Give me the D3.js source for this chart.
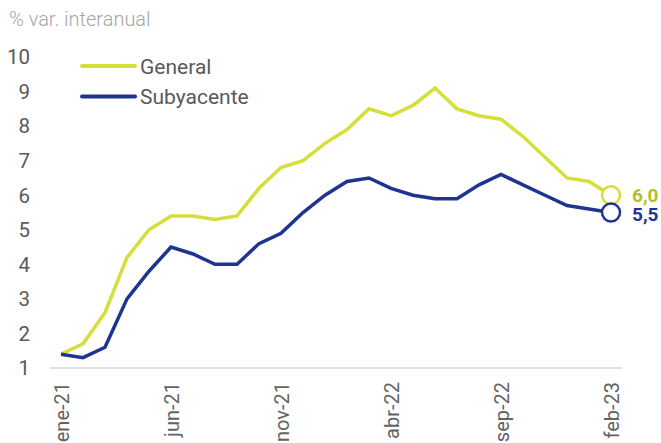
<!DOCTYPE html>
<html>
<head>
<meta charset="utf-8">
<script src="https://cdn.jsdelivr.net/npm/d3@7"></script>
<style>
  body { margin: 0; background: #fff; }
  svg { display: block; font-family: Roboto, "Noto Sans", sans-serif; }
</style>
</head>
<body>
<div id="chart"></div>
<script>
const months = ["ene-21","feb-21","mar-21","abr-21","may-21","jun-21","jul-21","ago-21","sep-21","oct-21","nov-21","dic-21",
  "ene-22","feb-22","mar-22","abr-22","may-22","jun-22","jul-22","ago-22","sep-22","oct-22","nov-22","dic-22",
  "ene-23","feb-23"];
const general = [1.4,1.7,2.6,4.2,5.0,5.4,5.4,5.3,5.4,6.2,6.8,7.0,7.5,7.9,8.5,8.3,8.6,9.1,8.5,8.3,8.2,7.7,7.1,6.5,6.4,6.0];
const subyacente = [1.4,1.3,1.6,3.0,3.8,4.5,4.3,4.0,4.0,4.6,4.9,5.5,6.0,6.4,6.5,6.2,6.0,5.9,5.9,6.3,6.6,6.3,6.0,5.7,5.6,5.5];
const shownTicks = ["ene-21","jun-21","nov-21","abr-22","sep-22","feb-23"];
const yTicks = [1,2,3,4,5,6,7,8,9,10];

const width = 661, height = 443;
const colGeneral = "#d5df38", colSub = "#1f3491";

const svg = d3.select("#chart").append("svg")
  .attr("width", width)
  .attr("height", height);

const x = d3.scalePoint().domain(months).range([61, 611]);
const y = d3.scaleLinear().domain([1, 10]).range([368, 57]);

// title
svg.append("text")
  .attr("x", 9).attr("y", 26)
  .attr("fill", "#a6a6a6")
  .attr("font-size", 20)
  .attr("font-weight", 300)
  .text("% var. interanual");

// y axis labels
svg.append("g")
  .selectAll("text")
  .data(yTicks)
  .join("text")
  .attr("x", 30)
  .attr("y", d => y(d))
  .attr("dy", "0.36em")
  .attr("text-anchor", "end")
  .attr("fill", "#595959")
  .attr("font-size", 20.5)
  .text(d => d);

// x axis
const xAxis = svg.append("g")
  .attr("transform", `translate(0,${y(1)})`)
  .call(d3.axisBottom(x).tickValues(shownTicks).tickSize(0));
xAxis.select(".domain").remove();
xAxis.append("line")
  .attr("x1", 50).attr("x2", 622)
  .attr("stroke", "#d9d9d9")
  .attr("stroke-width", 1.5);
xAxis.selectAll(".tick text")
  .attr("transform", "rotate(-90)")
  .attr("text-anchor", "end")
  .attr("x", -14).attr("y", 0)
  .attr("dy", "0.36em")
  .attr("fill", "#636363")
  .attr("font-size", 20)
  .attr("font-family", "Roboto, 'Noto Sans', sans-serif");

// lines
const line = d3.line().x((d, i) => x(months[i])).y(d => y(d));
const series = [
  { name: "General", values: general, color: colGeneral, labelColor: "#b5bd2a" },
  { name: "Subyacente", values: subyacente, color: colSub, labelColor: colSub }
];

svg.append("g")
  .selectAll("path")
  .data(series)
  .join("path")
  .attr("d", d => line(d.values))
  .attr("fill", "none")
  .attr("stroke", d => d.color)
  .attr("stroke-width", 3.5)
  .attr("stroke-linejoin", "miter");

// end markers
const last = months[months.length - 1];
svg.append("g")
  .selectAll("circle")
  .data(series)
  .join("circle")
  .attr("cx", x(last))
  .attr("cy", d => y(d.values[d.values.length - 1]))
  .attr("r", 9)
  .attr("fill", "#fff")
  .attr("stroke", d => d.color)
  .attr("stroke-width", 2.5);

// end labels
svg.append("g")
  .selectAll("text")
  .data(series)
  .join("text")
  .attr("x", x(last) + 21)
  .attr("y", (d, i) => y(d.values[d.values.length - 1]) + (i ? 1.5 : -0.5))
  .attr("dy", "0.36em")
  .attr("fill", d => d.labelColor)
  .attr("font-weight", "bold")
  .attr("font-size", 19)
  .text(d => d3.format(".1f")(d.values[d.values.length - 1]).replace(".", ","));

// legend
const legend = svg.append("g")
  .selectAll("g")
  .data(series)
  .join("g")
  .attr("transform", (d, i) => `translate(82,${66 + i * 30.5})`);
legend.append("line")
  .attr("x1", 0).attr("x2", 53)
  .attr("stroke", d => d.color)
  .attr("stroke-width", 4)
  .attr("stroke-linecap", "round");
legend.append("text")
  .attr("x", 58)
  .attr("dy", "0.36em")
  .attr("fill", "#595959")
  .attr("font-size", 21)
  .text(d => d.name);
</script>
</body>
</html>
